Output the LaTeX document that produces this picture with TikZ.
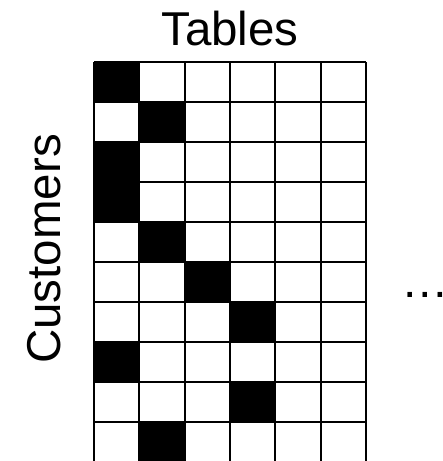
\documentclass[tikz,border=0pt]{standalone}
\usepackage{fontspec}
\setmainfont{Liberation Sans}
\begin{document}
\begin{tikzpicture}[x=1pt,y=-1pt,
  lbl/.style={inner sep=0pt,font=\fontsize{47.5}{56}\selectfont},
  gridline/.style={line width=2.1pt,black},
  filled/.style={fill=black}]
\useasboundingbox (0,0) rectangle (443,461);
\begin{scope}
\clip (0,0) rectangle (443,461);
% filled cells (col,row)
\foreach \c/\r in {0/0,1/1,0/2,0/3,1/4,2/5,3/6,0/7,3/8,1/9}{
  \fill[filled] ({94+45.33*\c},{62+40*\r}) rectangle ({94+45.33*(\c+1)},{62+40*(\r+1)});
}
% grid lines
\foreach \i in {0,...,6}{
  \draw[gridline] ({94+45.33*\i},62) -- ({94+45.33*\i},466);
}
\foreach \j in {0,...,10}{
  \draw[gridline] (94,{62+40*\j}) -- (366,{62+40*\j});
}
\end{scope}
\node[lbl,anchor=base] (tables) at (230,45) {Tables};
\node[lbl,anchor=base,rotate=90] (customers) at (60,249) {Customers};
\node[lbl,anchor=base west] (dots) at (401.6,297) {…};
\end{tikzpicture}
\end{document}
